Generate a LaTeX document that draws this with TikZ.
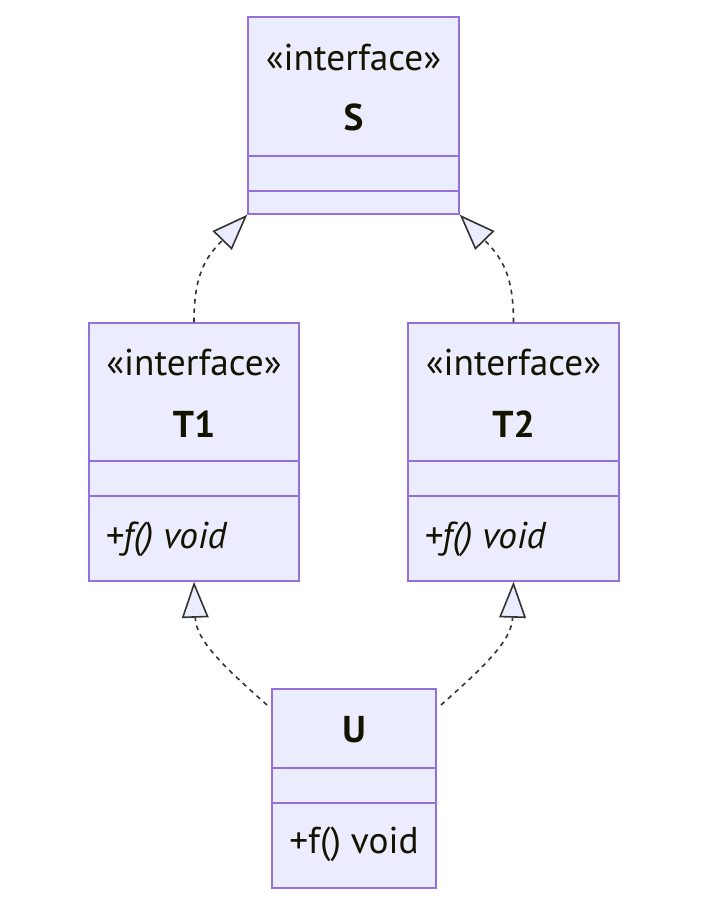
\documentclass[tikz,border=0pt]{standalone}
\usepackage{fontspec}
\setmainfont{PT Sans}
\usetikzlibrary{arrows.meta}
\definecolor{boxfill}{HTML}{ECECFF}
\definecolor{boxline}{HTML}{9370DB}
\definecolor{txt}{HTML}{131300}
\definecolor{edge}{HTML}{333333}
\begin{document}
\begin{tikzpicture}[x=0.75pt, y=-0.75pt,
  classbox/.style={draw=boxline, fill=boxfill, line width=1.1pt, inner sep=0pt},
  divider/.style={draw=boxline, line width=1.1pt},
  lbl/.style={text=txt, font=\fontsize{28}{32}\selectfont, inner sep=0pt},
  impl/.style={draw=edge, line width=1.2pt, dash pattern=on 3.5pt off 3.5pt,
    -{Triangle[open, fill=boxfill, length=27pt, width=20pt]}}
]
\useasboundingbox (0,0) rectangle (708,905);

% interfaccia S
\node[classbox, minimum width=158.25pt, minimum height=147.75pt] (S) at (353.5,115.5) {};
\draw[divider] (248,156) -- (459,156);
\draw[divider] (248,191) -- (459,191);
\node[lbl] (S-st) at (353.5,58) {«interface»};
\node[lbl, font=\fontsize{28}{32}\selectfont\bfseries] (S-name) at (353.5,117) {S};

% interfaccia T1
\node[classbox, minimum width=157.5pt, minimum height=193.5pt] (T1) at (194,452) {};
\draw[divider] (89,461) -- (299,461);
\draw[divider] (89,496) -- (299,496);
\node[lbl] (T1-st) at (194,363) {«interface»};
\node[lbl, font=\fontsize{28}{32}\selectfont\bfseries] (T1-name) at (194,424) {T1};
\node[lbl, anchor=west, font=\fontsize{28}{32}\selectfont\itshape] (T1-op) at (105,539) {+f() void};

% interfaccia T2
\node[classbox, minimum width=158.25pt, minimum height=193.5pt] (T2) at (513.5,452) {};
\draw[divider] (408,461) -- (619,461);
\draw[divider] (408,496) -- (619,496);
\node[lbl] (T2-st) at (513.5,363) {«interface»};
\node[lbl, font=\fontsize{28}{32}\selectfont\bfseries] (T2-name) at (513.5,424) {T2};
\node[lbl, anchor=west, font=\fontsize{28}{32}\selectfont\itshape] (T2-op) at (424,539) {+f() void};

% classe U
\node[classbox, minimum width=123pt, minimum height=149.25pt] (U) at (354,788.5) {};
\draw[divider] (272,768) -- (436,768);
\draw[divider] (272,803) -- (436,803);
\node[lbl, font=\fontsize{28}{32}\selectfont\bfseries] (U-name) at (354,730) {U};
\node[lbl] (U-op) at (354,844) {+f() void};

%realizzazioni
\coordinate (u1) at (267,705);
\coordinate (u2) at (441,705);
\draw[impl] (T1.north) .. controls (194,275) and (205,258) .. (S.south west);
\draw[impl] (T2.north) .. controls (513.5,275) and (502,258) .. (S.south east);
\draw[impl] (u1) .. controls (222,665) and (196,640) .. (T1.south);
\draw[impl] (u2) .. controls (486,665) and (512,640) .. (T2.south);

\end{tikzpicture}
\end{document}
